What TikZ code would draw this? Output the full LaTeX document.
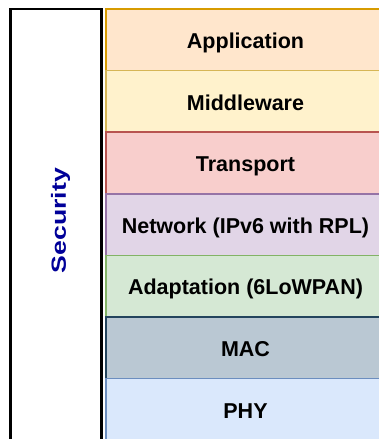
\documentclass[tikz,border=0pt]{standalone}
\usepackage{fontspec}
\setmainfont{Liberation Sans}
\usepackage{graphicx}
\definecolor{appF}{HTML}{FFE6CC}\definecolor{appD}{HTML}{D79B00}
\definecolor{midF}{HTML}{FFF2CC}\definecolor{midD}{HTML}{D6B656}
\definecolor{traF}{HTML}{F8CECC}\definecolor{traD}{HTML}{B85450}
\definecolor{netF}{HTML}{E1D5E7}\definecolor{netD}{HTML}{9673A6}
\definecolor{adaF}{HTML}{D5E8D4}\definecolor{adaD}{HTML}{82B366}
\definecolor{macF}{HTML}{BAC8D3}\definecolor{macD}{HTML}{23445D}
\definecolor{phyF}{HTML}{DAE8FC}\definecolor{phyD}{HTML}{6C8EBF}
\definecolor{secT}{HTML}{000099}
\tikzset{
  layer/.style={rectangle, minimum width=279pt, minimum height=61.6pt,
    inner sep=0pt, outer sep=0pt, line width=1.5pt},
  lbl/.style={inner sep=0pt, text height=15.4pt, text depth=0pt,
    font=\fontsize{21.5}{24}\selectfont\bfseries, text=black},
  secbox/.style={rectangle, draw=black, line width=2.6pt, fill=white,
    minimum width=91pt, minimum height=432pt, inner sep=0pt, outer sep=0pt},
  sectext/.style={rotate=90, text=secT, inner sep=0pt, text height=14.6pt, text depth=0pt,
    font=\fontsize{20.5}{24}\selectfont\bfseries}
}
\begin{document}
\begin{tikzpicture}[x=1pt,y=-1pt]
\useasboundingbox (0,0) rectangle (379,439);
\clip (0,0) rectangle (379,439);
\fill[white] (0,0) rectangle (379,439);
\node[secbox] (sec) at (56,225) {};
\node[sectext] (sectxt) at (58.5,220.5) {\scalebox{1.3}[1]{Security}};
\node[layer, fill=appF, draw=appD] (app) at (245.5,39.8)  {};
\node[layer, fill=midF, draw=midD] (mid) at (245.5,101.4) {};
\node[layer, fill=traF, draw=traD] (tra) at (245.5,163.0) {};
\node[layer, fill=netF, draw=netD] (net) at (245.5,224.6) {};
\node[layer, fill=adaF, draw=adaD] (ada) at (245.5,286.2) {};
\node[layer, fill=macF, draw=macD] (mac) at (245.5,347.8) {};
\node[layer, fill=phyF, draw=phyD] (phy) at (245.5,409.4) {};
\node[lbl] (appt) at ([yshift=-1pt]app.center) {Application};
\node[lbl] (midt) at ([yshift=-1pt]mid.center) {Middleware};
\node[lbl] (trat) at ([yshift=-1pt]tra.center) {Transport};
\node[lbl] (nett) at ([yshift=-1pt]net.center) {Network (IPv6 with RPL)};
\node[lbl] (adat) at ([yshift=-1pt]ada.center) {Adaptation (6LoWPAN)};
\node[lbl] (mact) at ([yshift=-1pt]mac.center) {MAC};
\node[lbl] (phyt) at ([yshift=-1pt]phy.center) {PHY};
\end{tikzpicture}
\end{document}
